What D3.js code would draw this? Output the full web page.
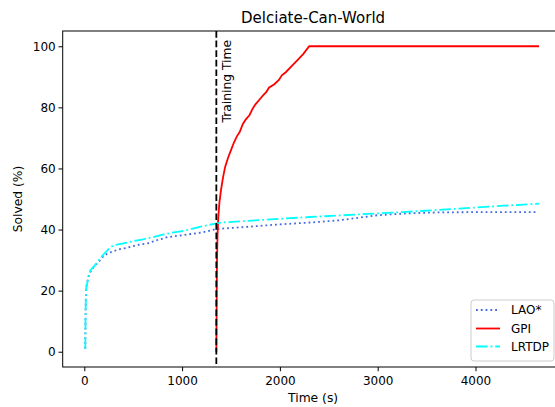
<!DOCTYPE html>
<html><head><meta charset="utf-8">
<script src="https://cdn.jsdelivr.net/npm/d3@7"></script>
<style>body{margin:0;background:#fff}svg{display:block;font-family:"DejaVu Sans",sans-serif}</style>
</head><body><div id="chart"></div>
<script>
const title = "Delciate-Can-World";
const xTicks = [0, 1000, 2000, 3000, 4000];
const yTicks = [0, 20, 40, 60, 80, 100];
const trainingTime = 1350;
const seriesNames = ["LAO*", "GPI", "LRTDP"];
const laoData = [[10,1],[12,10],[15,17],[20,21],[40,24.5],[60,26],[100,28],[150,29.5],[200,31.5],[264,32.5],[350,33.5],[433,34],[550,35],[650,35.5],[740,36.5],[850,37.5],[1012,38.2],[1200,39],[1354,40.2],[1500,40.5],[1796,41.2],[2000,41.7],[2308,42.3],[2600,43],[3000,44.7],[3300,45.3],[3600,45.6],[4000,45.7],[4300,45.7],[4640,45.7]];
const gpiData = [[1350,0],[1352,10],[1354,20],[1357,30],[1362,38],[1370,44],[1382,49],[1398,53],[1418,57],[1440,60.5],[1470,63.5],[1500,66],[1530,68.5],[1560,70.5],[1590,72],[1620,74.5],[1650,76],[1690,77.5],[1720,79.5],[1750,81],[1790,82.5],[1830,84],[1860,85],[1890,86.5],[1940,87.5],[1990,89],[2020,90.5],[2060,91.5],[2120,93.5],[2180,95.5],[2240,97.5],[2300,100],[4650,100]];
const lrtdpData = [[10,1],[12,10],[15,17],[20,21],[40,24],[60,26.5],[100,28],[150,30],[200,32],[260,34],[300,34.8],[400,35.5],[500,36.2],[600,36.8],[700,37.5],[800,38.3],[900,39],[1000,39.5],[1100,40.2],[1200,41],[1300,41.7],[1400,42.3],[1600,42.7],[1800,43.1],[2000,43.5],[2300,44.1],[2600,44.6],[3000,45.3],[3300,45.8],[3600,46.4],[4000,47.2],[4300,47.8],[4650,48.5]];

const W = 555, H = 407;
const L = 62.7, R = 563.5, T = 31, B = 367;
const svg = d3.select("#chart").append("svg").attr("width", W).attr("height", H);
const x = d3.scaleLinear().domain([-221, 4900]).range([L, R]);
const y = d3.scaleLinear().domain([-5, 105]).range([B, T]);

const styles = [
  {data: laoData, color: "#4169e1", dash: "1.8,3"},
  {data: gpiData, color: "#ff0000", dash: null},
  {data: lrtdpData, color: "#00ffff", dash: "11.6,2.9,1.8,2.9"}
];
const line = d3.line().x(d => x(d[0])).y(d => y(d[1]));
styles.forEach(s => {
  const p = svg.append("path").attr("d", line(s.data)).attr("fill", "none")
    .attr("stroke", s.color).attr("stroke-width", 1.8);
  if (s.dash) p.attr("stroke-dasharray", s.dash);
});

svg.append("line").attr("x1", x(trainingTime)).attr("x2", x(trainingTime))
  .attr("y1", T).attr("y2", B).attr("stroke", "#000").attr("stroke-width", 1.8)
  .attr("stroke-dasharray", "6.7,2.9");
svg.append("text").attr("transform", `translate(${x(trainingTime)+15},40) rotate(-90)`)
  .attr("text-anchor", "end").attr("font-size", 12.3).attr("fill", "#000").text("Training Time");

// axes
const xAxis = svg.append("g").attr("transform", `translate(0,${B})`)
  .call(d3.axisBottom(x).tickValues(xTicks).tickFormat(d3.format("d")).tickSize(4.2).tickSizeOuter(0));
const yAxis = svg.append("g").attr("transform", `translate(${L},0)`)
  .call(d3.axisLeft(y).tickValues(yTicks).tickFormat(d3.format("d")).tickSize(4.2).tickSizeOuter(0));
[xAxis, yAxis].forEach(a => {
  a.select(".domain").remove();
  a.selectAll("text").attr("font-size", 12).attr("fill", "#000").attr("font-family", "DejaVu Sans");
  a.selectAll("line").attr("stroke", "#000");
});
xAxis.selectAll("text").attr("dy", "0.95em").attr("y", 7);
yAxis.selectAll("text").attr("x", -7);
svg.append("rect").attr("x", L).attr("y", T).attr("width", R - L).attr("height", B - T)
  .attr("fill", "none").attr("stroke", "#000").attr("stroke-width", 1);

svg.append("text").attr("x", (L+R)/2).attr("y", 23).attr("text-anchor", "middle")
  .attr("font-size", 15).text(title);
svg.append("text").attr("x", (L+R)/2).attr("y", 402).attr("text-anchor", "middle")
  .attr("font-size", 12.3).text("Time (s)");
svg.append("text").attr("transform", `translate(22,${(T+B)/2}) rotate(-90)`).attr("text-anchor", "middle")
  .attr("font-size", 12.3).text("Solved (%)");

// legend
const lg = svg.append("g");
lg.append("rect").attr("x", 471).attr("y", 300).attr("width", 83).attr("height", 61).attr("rx", 3)
  .attr("fill", "#fff").attr("fill-opacity", 0.8).attr("stroke", "#cccccc").attr("stroke-width", 1);
const rows = [310, 328.5, 346.5];
styles.forEach((s, i) => {
  const l = lg.append("line").attr("x1", 476).attr("x2", 500).attr("y1", rows[i]).attr("y2", rows[i])
    .attr("stroke", s.color).attr("stroke-width", 1.8);
  if (s.dash) l.attr("stroke-dasharray", s.dash);
  lg.append("text").attr("x", 511).attr("y", rows[i]).attr("dy", "0.35em").attr("font-size", 12).text(seriesNames[i]);
});
</script></body></html>
